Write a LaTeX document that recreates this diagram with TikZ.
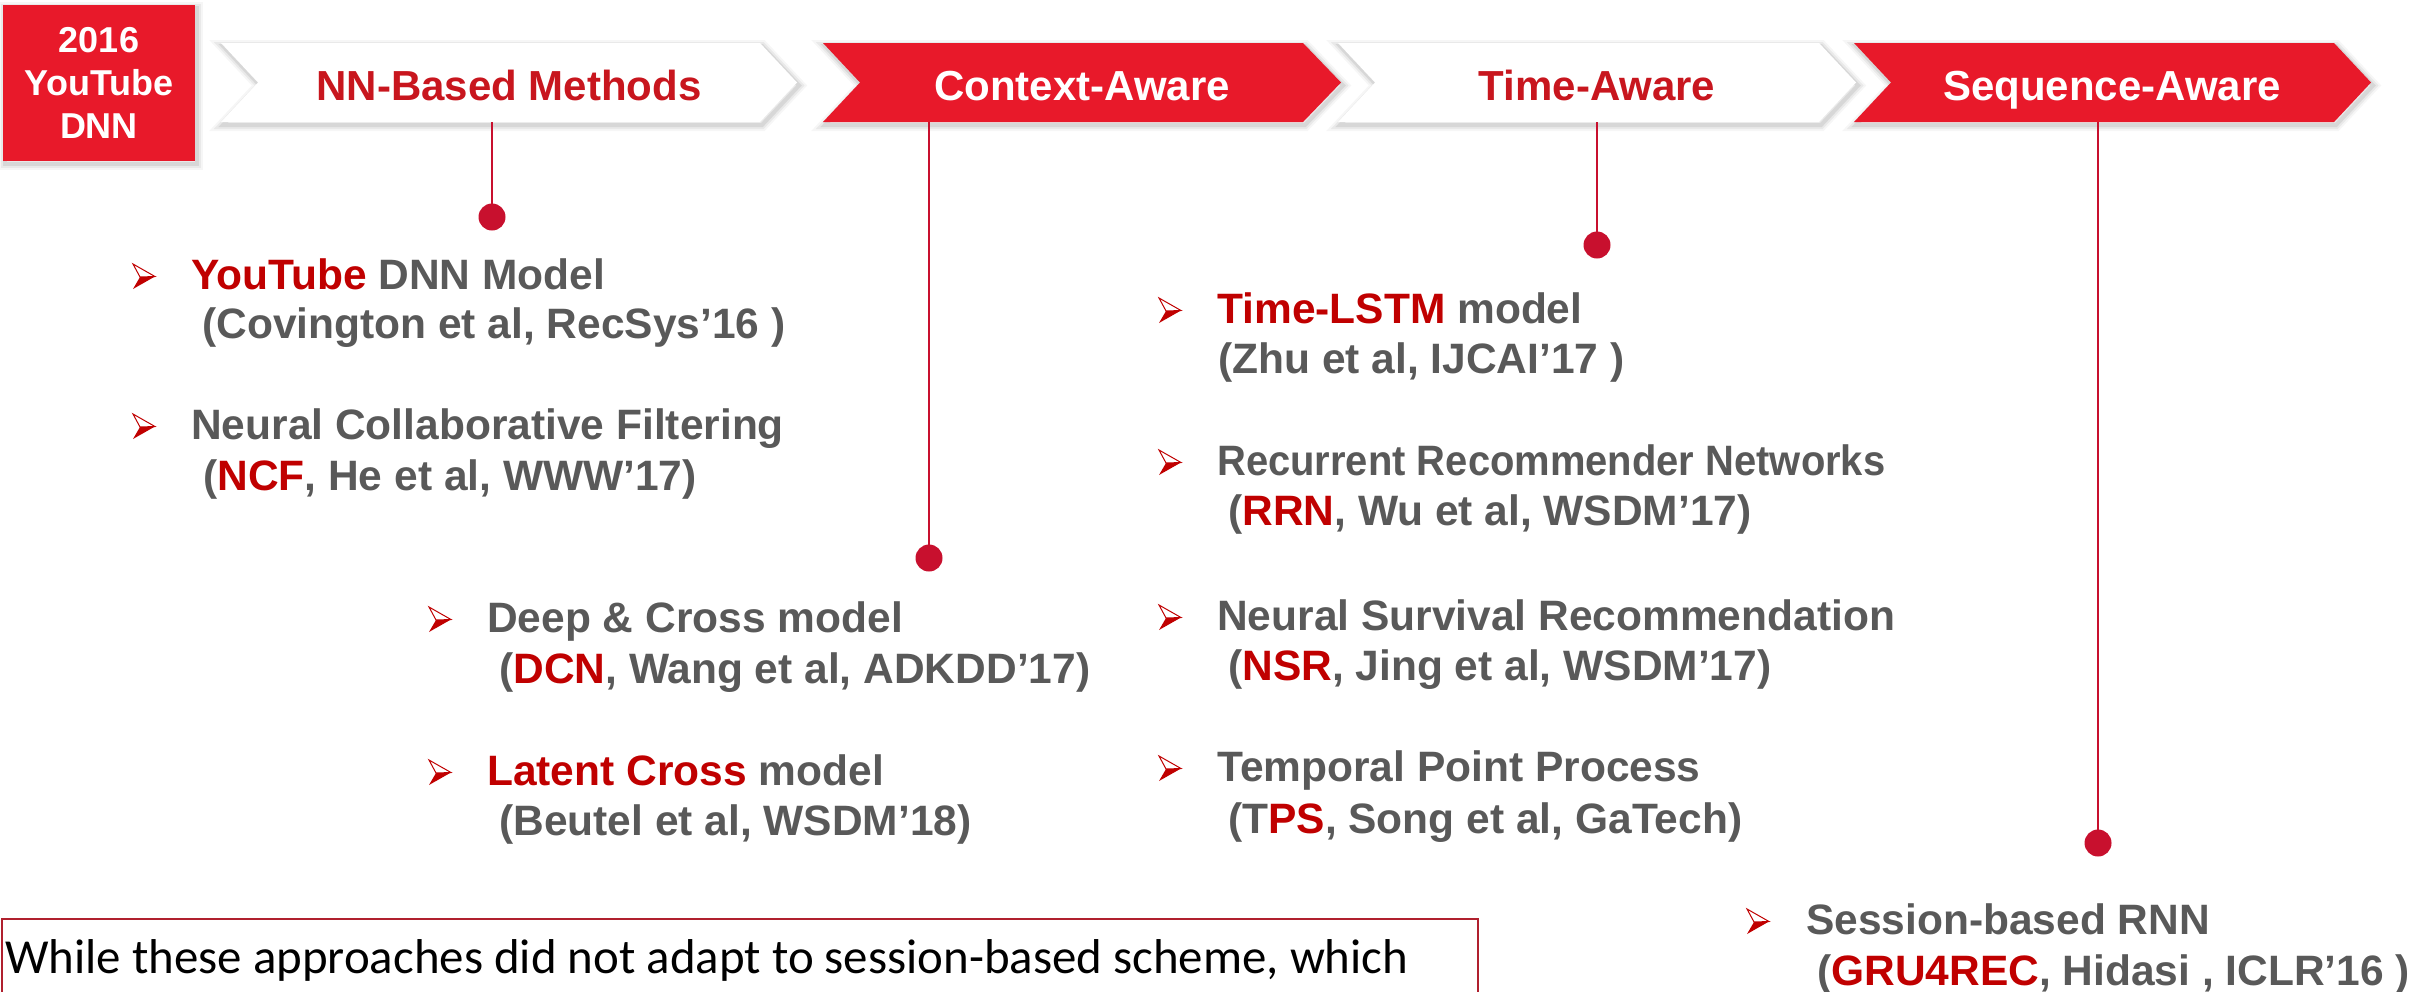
\documentclass[tikz,border=0pt]{standalone}
\usepackage{fontspec}
\setmainfont{Liberation Sans}
\newfontfamily\calfont{Carlito}
\definecolor{boxred}{HTML}{E8192A}
\definecolor{linered}{HTML}{C8102E}
\definecolor{hired}{HTML}{C00000}
\definecolor{txtgray}{HTML}{595959}
\definecolor{titlered}{HTML}{C8161E}
\definecolor{framered}{HTML}{B0202E}
\newcommand\mychevron[5]{%
  \foreach \w/\o in {12/0.035, 8/0.05, 4/0.08} {
    \draw[black, opacity=\o, line width=\w pt, line join=miter, shift={(2,3)}]
      (#1,43) -- (#3,43) -- (#4,82.5) -- (#3,122) -- (#1,122) -- (#2,82.5) -- cycle;}
  \fill[#5] (#1,43) -- (#3,43) -- (#4,82.5) -- (#3,122) -- (#1,122) -- (#2,82.5) -- cycle;
}
\begin{document}
\begin{tikzpicture}[x=1pt,y=-1pt,
  itemtext/.style={anchor=base west, inner sep=0pt, text=txtgray, font=\fontsize{42.5}{50}\selectfont\bfseries},
  chevlabel/.style={anchor=base, inner sep=0pt, font=\fontsize{42}{50}\selectfont\bfseries},
  stem/.style={draw=linered, line width=2.2pt},
  reddot/.style={circle, fill=linered, minimum size=27pt, inner sep=0pt},
  bul/.pic={
    \fill[hired] (7,-12) -- (22,-12.5) -- (0,0) -- cycle;
    \draw[hired, fill=white, line width=1pt, line join=miter] (0,-25) -- (22,-12.5) -- (7,-12) -- cycle;
  }
]
\useasboundingbox (0,0) rectangle (2432,991);
\clip (0,0) rectangle (2432,991);

% start box
\foreach \w/\o in {12/0.035, 8/0.05, 4/0.08} {
  \draw[black, opacity=\o, line width=\w pt, shift={(2,3)}] (3,5) rectangle (195,161);}
\node[fill=boxred, minimum width=192pt, minimum height=156pt, inner sep=0pt, align=center,
      text=white, font=\fontsize{36}{43}\selectfont\bfseries] (yt) at (99,83) {2016\\YouTube\\DNN};

% chevrons
\mychevron{221}{258}{760}{797}{white}
\mychevron{823}{860}{1303}{1341}{boxred}
\mychevron{1338}{1375}{1819}{1856}{white}
\mychevron{1854}{1891}{2334}{2371}{boxred}

\node[chevlabel, text=titlered] (c1) at (509,100) {NN-Based Methods};
\node[chevlabel, text=white] (c2) at (1082,100) {Context-Aware};
\node[chevlabel, text=titlered] (c3) at (1597,100) {Time-Aware};
\node[chevlabel, text=white] (c4) at (2112,100) {Sequence-Aware};

\coordinate (c1b) at (492,122);
\coordinate (c2b) at (929,122);
\coordinate (c3b) at (1597,122);
\coordinate (c4b) at (2098,122);
\node[reddot] (d1) at (492,217) {};
\node[reddot] (d2) at (929,558) {};
\node[reddot] (d3) at (1597,245) {};
\node[reddot] (d4) at (2098,843) {};
\draw[stem] (c1b) -- (d1.center);
\draw[stem] (c2b) -- (d2.center);
\draw[stem] (c3b) -- (d3.center);
\draw[stem] (c4b) -- (d4.center);

% NN-based items
\pic at (133,289) {bul};
\node[itemtext] (a1) at (191,289) {\textcolor{hired}{YouTube} DNN Model};
\node[itemtext] (a2) at (202,338) {(Covington et al, RecSys’16 )};
\pic at (133,439) {bul};
\node[itemtext] (b1) at (191,439) {Neural Collaborative Filtering};
\node[itemtext] (b2) at (203,490) {(\textcolor{hired}{NCF}, He et al, WWW’17)};

% context-aware items
\pic at (429,632) {bul};
\node[itemtext] (e1) at (487,632) {Deep \& Cross model};
\node[itemtext] (e2) at (499,683) {(\textcolor{hired}{DCN}, Wang et al, ADKDD’17)};
\pic at (429,785) {bul};
\node[itemtext] (f1) at (487,785) {\textcolor{hired}{Latent Cross} model};
\node[itemtext] (f2) at (499,835) {(Beutel et al, WSDM’18)};

% time-aware items
\pic at (1159,323) {bul};
\node[itemtext] (g1) at (1217,323) {\textcolor{hired}{Time-LSTM} model};
\node[itemtext] (g2) at (1218,373) {(Zhu et al, IJCAI’17 )};
\pic at (1159,475) {bul};
\node[itemtext] (h1) at (1217,475) {\scalebox{0.94}[1]{Recurrent Recommender Networks}};
\node[itemtext] (h2) at (1228,525) {(\textcolor{hired}{RRN}, Wu et al, WSDM’17)};
\pic at (1159,630) {bul};
\node[itemtext] (k1) at (1217,630) {Neural Survival Recommendation};
\node[itemtext] (k2) at (1228,680) {(\textcolor{hired}{NSR}, Jing et al, WSDM’17)};
\pic at (1159,781) {bul};
\node[itemtext] (m1) at (1217,781) {Temporal Point Process};
\node[itemtext] (m2) at (1228,833) {(T\textcolor{hired}{PS}, Song et al, GaTech)};

% sequence-aware item
\pic at (1747,934) {bul};
\node[itemtext] (n1) at (1806,934) {Session-based RNN};
\node[itemtext] (n2) at (1817,985) {(\textcolor{hired}{GRU4REC}, Hidasi , ICLR’16 )};

% note box
\draw[draw=framered, line width=2.5pt] (2,919) rectangle (1478,1030);
\node[anchor=base west, inner sep=0pt, font=\calfont\fontsize{48.9}{58}\selectfont] (note) at (5,973)
  {While these approaches did not adapt to session-based scheme, which};
\end{tikzpicture}
\end{document}
